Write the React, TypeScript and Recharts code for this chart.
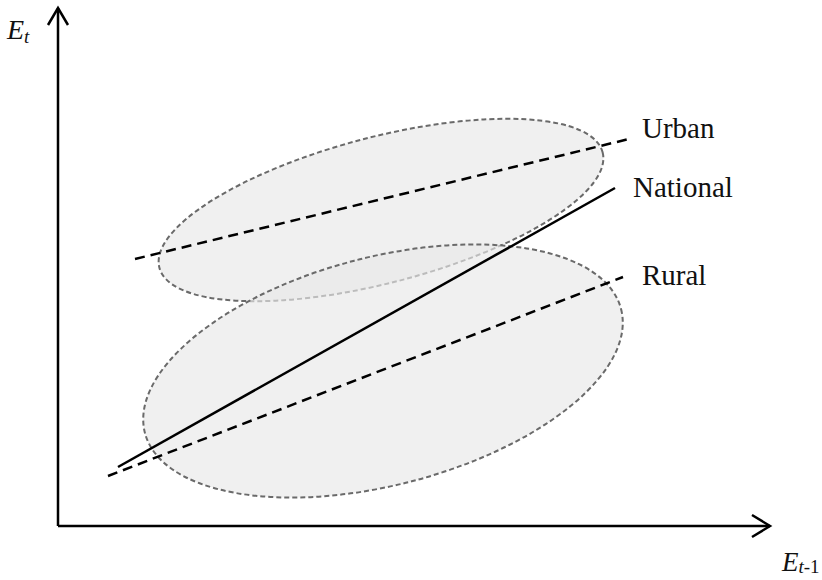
import React from 'react';
import {
  ScatterChart,
  Scatter,
  XAxis,
  YAxis,
  ReferenceLine,
  ReferenceDot,
} from 'recharts';

// conceptual E(t-1) -> E(t) diagram, units chosen so 1 unit ~ 1 px
const X_MAX = 712;
const Y_MAX = 518;

const urbanLine = [
  { x: 77, y: 267 },
  { x: 571, y: 387 },
];
const nationalLine = [
  { x: 60, y: 59 },
  { x: 557, y: 338 },
];
const ruralLine = [
  { x: 50, y: 50 },
  { x: 565, y: 249 },
];

// cluster centres + spread (semi axes) + tilt in degrees
const urbanCluster = [{ x: 323, y: 316, major: 229, minor: 73, tilt: 14.6 }];
const ruralCluster = [{ x: 325, y: 155, major: 246, minor: 114, tilt: 14.6 }];

const seriesNames = ['Urban', 'National', 'Rural'];

const W = 822;
const H = 580;
const margin = { top: 8, right: W - 58 - X_MAX, bottom: H - 8 - Y_MAX, left: 58 };
const kx = (W - margin.left - margin.right) / X_MAX;
const ky = (H - margin.top - margin.bottom) / Y_MAX;

const serif = '"Liberation Serif", "Times New Roman", serif';

const labelOffset: Record<string, [number, number]> = {
  Urban: [13, -1],
  National: [18, 9],
  Rural: [19, 8],
};

const EllipseShape = (props: any) => {
  const { cx, cy, payload } = props;
  return (
    <ellipse
      cx={cx}
      cy={cy}
      rx={payload.major * kx}
      ry={payload.minor * ky}
      transform={`rotate(${-payload.tilt} ${cx} ${cy})`}
      fill="#e8e8e8"
      fillOpacity={0.65}
      stroke="#6a6a6a"
      strokeWidth={2}
      strokeDasharray="5 3"
    />
  );
};

const endLabel = (name: string, pts: { x: number; y: number }[]) => (props: any) => {
  const { cx, cy, payload } = props;
  if (payload.x !== pts[pts.length - 1].x) return <g />;
  const [dx, dy] = labelOffset[name];
  return (
    <text x={cx + dx} y={cy + dy} fontFamily={serif} fontSize={29} fill="#111">
      {name}
    </text>
  );
};

const XArrow = (props: any) => {
  const { cx, cy } = props;
  return (
    <g>
      <path
        d={`M${cx - 18},${cy - 11} L${cx},${cy} L${cx - 18},${cy + 11}`}
        fill="none"
        stroke="#000"
        strokeWidth={2.5}
      />
      <text x={cx + 12} y={cy + 45} fontFamily={serif} fontSize={27} fill="#111">
        <tspan fontStyle="italic">E</tspan>
        <tspan fontSize={19} dy={2} fontStyle="italic">t</tspan>
        <tspan fontSize={19}>-1</tspan>
      </text>
    </g>
  );
};

const YArrow = (props: any) => {
  const { cx, cy } = props;
  return (
    <g>
      <path
        d={`M${cx - 10},${cy + 17} L${cx},${cy} L${cx + 10},${cy + 17}`}
        fill="none"
        stroke="#000"
        strokeWidth={2.5}
      />
      <text x={cx - 51} y={cy + 31} fontFamily={serif} fontSize={28} fill="#111">
        <tspan fontStyle="italic">E</tspan>
        <tspan fontSize={19} dy={4} fontStyle="italic">t</tspan>
      </text>
    </g>
  );
};

const lineStyle = { stroke: '#000', strokeWidth: 2.5 };
const dashed = { ...lineStyle, strokeDasharray: '10 6' };

export default function App() {
  return (
    <div style={{ position: 'absolute', left: 0, top: 0, background: '#fff' }}>
      <ScatterChart width={W} height={H} margin={margin}>
        <XAxis type="number" dataKey="x" domain={[0, X_MAX]} hide />
        <YAxis type="number" dataKey="y" domain={[0, Y_MAX]} hide />

        <Scatter
          data={urbanCluster}
          shape={EllipseShape}
          isAnimationActive={false}
        />
        <Scatter
          data={ruralCluster}
          shape={EllipseShape}
          isAnimationActive={false}
        />

        <Scatter
          data={urbanLine}
          line={dashed}
          shape={endLabel(seriesNames[0], urbanLine)}
          isAnimationActive={false}
        />
        <Scatter
          data={nationalLine}
          line={lineStyle}
          shape={endLabel(seriesNames[1], nationalLine)}
          isAnimationActive={false}
        />
        <Scatter
          data={ruralLine}
          line={dashed}
          shape={endLabel(seriesNames[2], ruralLine)}
          isAnimationActive={false}
        />

        <ReferenceLine
          segment={[{ x: 0, y: 0 }, { x: X_MAX, y: 0 }]}
          stroke="#000"
          strokeWidth={2.5}
          ifOverflow="visible"
        />
        <ReferenceLine
          segment={[{ x: 0, y: 0 }, { x: 0, y: Y_MAX }]}
          stroke="#000"
          strokeWidth={2.5}
          ifOverflow="visible"
        />
        <ReferenceDot x={X_MAX} y={0} r={0} shape={XArrow} ifOverflow="visible" />
        <ReferenceDot x={0} y={Y_MAX} r={0} shape={YArrow} ifOverflow="visible" />
      </ScatterChart>
    </div>
  );
}
